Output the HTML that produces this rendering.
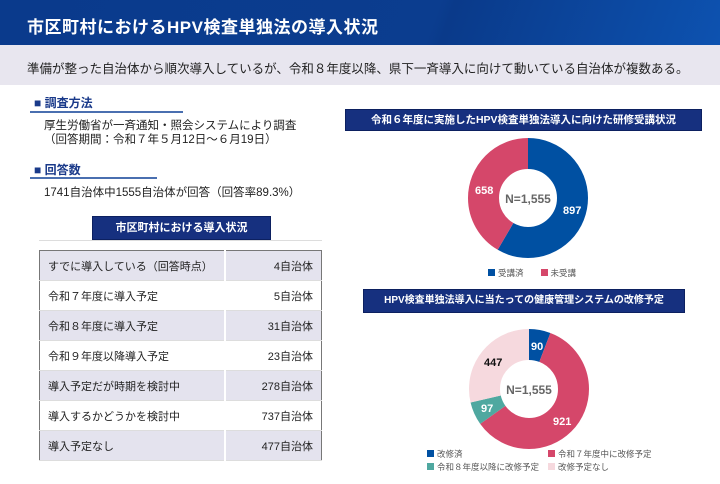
<!DOCTYPE html><html><head><meta charset="utf-8"><style>
body{margin:0;width:720px;height:484px;background:#fff;font-family:"Liberation Sans","Noto Sans CJK JP",sans-serif;position:relative;overflow:hidden;color:#222}
.a{position:absolute;white-space:nowrap}
.hd{left:0;top:0;width:720px;height:45px;background:linear-gradient(110deg,#0a3a8c 0%,#0b3d8f 60%,#0a3a8a 62%,#0d52b0 100%)}
.sub{left:0;top:45px;width:720px;height:40px;background:#e8e6ef}
.bar{background:#16307f;color:#fff;font-weight:bold;text-align:center;border:1px solid #0c2060}
table{position:absolute;left:39px;top:250px;width:283px;height:211px;border-collapse:collapse;border:1px solid #777;font-size:11px;table-layout:fixed}
td{height:29px;padding:0 8px;border-bottom:1px solid #ddd;white-space:nowrap;overflow:hidden}
td.l{width:168px}
td.r{text-align:right;border-left:2px solid #fff}
tr:nth-child(odd) td{background:#e4e3ee}
.sq{display:inline-block;width:7px;height:7px;margin-right:3px}
</style></head><body>
<div class="a hd"></div>
<div class="a" style="left:27px;top:13px;font-size:17px;font-weight:bold;color:#fff;letter-spacing:0.5px">市区町村におけるHPV検査単独法の導入状況</div>
<div class="a sub"></div>
<div class="a" style="left:27px;top:58px;font-size:12.5px">準備が整った自治体から順次導入しているが、令和８年度以降、県下一斉導入に向けて動いている自治体が複数ある。</div>

<div class="a" style="left:34px;top:94px;font-size:12px;font-weight:bold;color:#1a3a8a">■ 調査方法</div>
<div class="a" style="left:30px;top:111px;width:153px;height:2px;background:#4a6fb0"></div>
<div class="a" style="left:44px;top:119px;font-size:11.5px;line-height:14px">厚生労働省が一斉通知・照会システムにより調査<br>（回答期間：令和７年５月12日～６月19日）</div>
<div class="a" style="left:34px;top:161px;font-size:12px;font-weight:bold;color:#1a3a8a">■ 回答数</div>
<div class="a" style="left:30px;top:177px;width:127px;height:2px;background:#4a6fb0"></div>
<div class="a" style="left:44px;top:184px;font-size:11.5px">1741自治体中1555自治体が回答（回答率89.3%）</div>
<div class="a bar" style="left:92px;top:216px;width:177px;height:22px;line-height:22px;font-size:11px">市区町村における導入状況</div>
<div class="a" style="left:39px;top:240px;width:283px;height:1px;background:#ddd"></div>
<table>
<tr><td class="l">すでに導入している（回答時点）</td><td class="r">4自治体</td></tr>
<tr><td class="l">令和７年度に導入予定</td><td class="r">5自治体</td></tr>
<tr><td class="l">令和８年度に導入予定</td><td class="r">31自治体</td></tr>
<tr><td class="l">令和９年度以降導入予定</td><td class="r">23自治体</td></tr>
<tr><td class="l">導入予定だが時期を検討中</td><td class="r">278自治体</td></tr>
<tr><td class="l">導入するかどうかを検討中</td><td class="r">737自治体</td></tr>
<tr><td class="l">導入予定なし</td><td class="r">477自治体</td></tr>
</table>

<div class="a bar" style="left:345px;top:109px;width:355px;height:20px;line-height:20px;font-size:10.5px">令和６年度に実施したHPV検査単独法導入に向けた研修受講状況</div>
<svg class="a" style="left:0;top:0" width="720" height="484">
<g transform="rotate(-90 528 198)" fill="none" stroke-width="31">
<circle cx="528" cy="198" r="44.5" stroke="#0050a2" stroke-dasharray="163.1 400" />
<circle cx="528" cy="198" r="44.5" stroke="#d5476a" stroke-dasharray="116.5 400" stroke-dashoffset="-163.1"/>
</g>
<text x="475" y="194" font-size="11" font-weight="bold" fill="#fff" font-family="Liberation Sans">658</text>
<text x="563" y="214" font-size="11" font-weight="bold" fill="#fff" font-family="Liberation Sans">897</text>
<text x="528" y="203" font-size="12" font-weight="bold" fill="#666" text-anchor="middle" font-family="Liberation Sans">N=1,555</text>
<g transform="rotate(-90 529 389)" fill="none" stroke-width="31">
<circle cx="529" cy="389" r="44.5" stroke="#0050a2" stroke-dasharray="16.2 400"/>
<circle cx="529" cy="389" r="44.5" stroke="#d5476a" stroke-dasharray="165.6 400" stroke-dashoffset="-16.2"/>
<circle cx="529" cy="389" r="44.5" stroke="#4fa8a0" stroke-dasharray="17.4 400" stroke-dashoffset="-181.8"/>
<circle cx="529" cy="389" r="44.5" stroke="#f6d9de" stroke-dasharray="80.4 400" stroke-dashoffset="-199.2"/>
</g>
<text x="531" y="350" font-size="11" font-weight="bold" fill="#fff" font-family="Liberation Sans">90</text>
<text x="484" y="366" font-size="11" font-weight="bold" fill="#111" font-family="Liberation Sans">447</text>
<text x="481" y="412" font-size="11" font-weight="bold" fill="#fff" font-family="Liberation Sans">97</text>
<text x="553" y="425" font-size="11" font-weight="bold" fill="#fff" font-family="Liberation Sans">921</text>
<text x="529" y="394" font-size="12" font-weight="bold" fill="#666" text-anchor="middle" font-family="Liberation Sans">N=1,555</text>
</svg>
<div class="a" style="left:488px;top:267px;font-size:8.5px;color:#555"><span class="sq" style="background:#0050a2"></span>受講済　　<span class="sq" style="background:#d5476a"></span>未受講</div>
<div class="a" style="left:364px;top:290px;width:316px;height:1px;background:#8aa0cc"></div>

<div class="a bar" style="left:363px;top:289px;width:320px;height:22px;line-height:22px;font-size:10px">HPV検査単独法導入に当たっての健康管理システムの改修予定</div>
<div class="a" style="left:427px;top:448px;font-size:8.5px;color:#555;line-height:13px"><span class="sq" style="background:#0050a2"></span>改修済<br><span class="sq" style="background:#4fa8a0"></span>令和８年度以降に改修予定</div>
<div class="a" style="left:548px;top:448px;font-size:8.5px;color:#555;line-height:13px"><span class="sq" style="background:#d5476a"></span>令和７年度中に改修予定<br><span class="sq" style="background:#f6d9de"></span>改修予定なし</div>
</body></html>
